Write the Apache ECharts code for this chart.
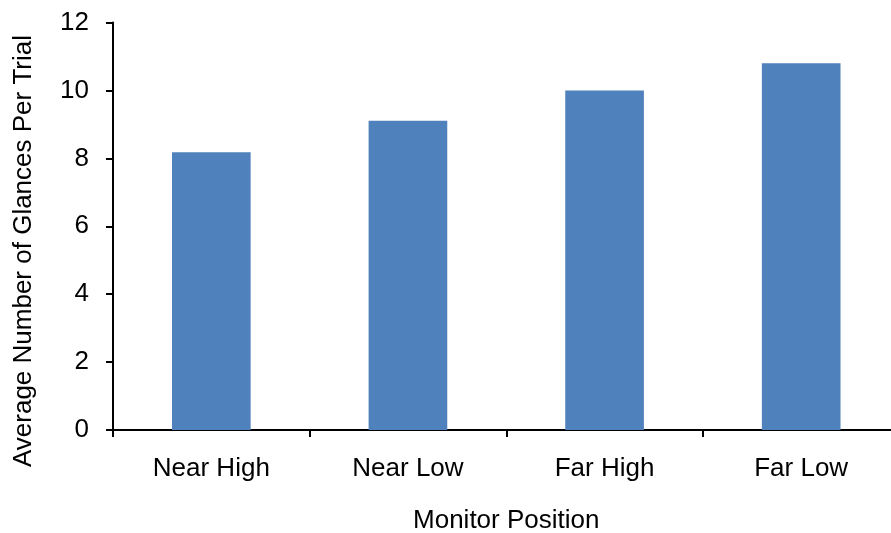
<!DOCTYPE html>
<html>
<head>
<meta charset="utf-8">
<script src="https://cdn.jsdelivr.net/npm/echarts@6/dist/echarts.min.js"></script>
<style>html,body{margin:0;padding:0;background:#fff}#c{width:891px;height:533px}</style>
</head>
<body>
<div id="c"></div>
<script>
const categories = ['Near High', 'Near Low', 'Far High', 'Far Low'];
const glances = [8.18, 9.11, 10.0, 10.8];
const yTicks = [0, 2, 4, 6, 8, 10, 12];
const xTitle = 'Monitor Position';
const yTitle = 'Average Number of Glances Per Trial';

const chart = echarts.init(document.getElementById('c'), null, {renderer: 'canvas'});
const font = '"Liberation Sans", Arial, sans-serif';
chart.setOption({
  animation: false,
  grid: {left: 113, top: 22.5, width: 786.5, height: 407.5, containLabel: false, outerBoundsMode: 'none'},
  xAxis: {
    type: 'category',
    data: categories,
    name: xTitle,
    nameLocation: 'middle',
    nameGap: 78,
    nameTextStyle: {color: '#000', fontSize: 26, fontFamily: font},
    axisLine: {lineStyle: {color: '#000', width: 2}},
    axisTick: {show: true, length: 7, inside: false, lineStyle: {color: '#000', width: 2}},
    axisLabel: {color: '#000', fontSize: 26, fontFamily: font, margin: 26},
    splitLine: {show: false}
  },
  yAxis: {
    type: 'value',
    min: yTicks[0],
    max: yTicks[yTicks.length - 1],
    interval: 2,
    axisLine: {show: true, lineStyle: {color: '#000', width: 2}},
    axisTick: {show: true, length: 7, lineStyle: {color: '#000', width: 2}},
    axisLabel: {color: '#000', fontSize: 26, fontFamily: font, margin: 24},
    splitLine: {show: false}
  },
  graphic: [{
    type: 'text',
    x: 24,
    y: 251,
    rotation: Math.PI / 2,
    style: {
      text: yTitle,
      fill: '#000',
      font: '26px "Liberation Sans", Arial, sans-serif',
      align: 'center',
      verticalAlign: 'middle'
    }
  }],
  series: [{
    type: 'bar',
    data: glances,
    barWidth: '40%',
    itemStyle: {color: '#4F81BD'}
  }]
});
</script>
</body>
</html>
